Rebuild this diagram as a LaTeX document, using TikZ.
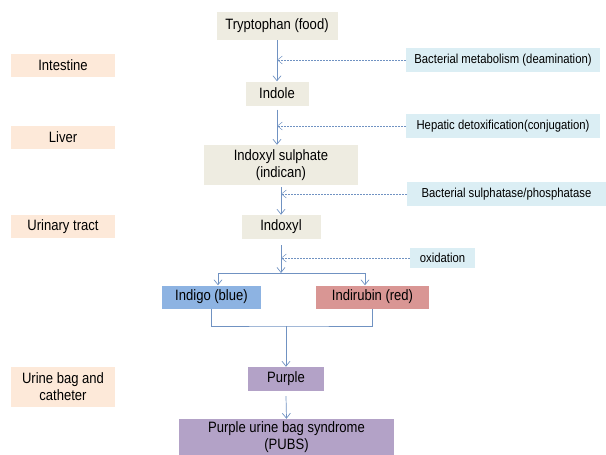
\documentclass[tikz,border=0pt]{standalone}
\usepackage{fontspec}
\setmainfont{Liberation Sans}[FakeStretch=0.87]
\usepackage{tikz}
\usetikzlibrary{positioning, arrows.meta, shapes}
\definecolor{arena}{RGB}{238, 236, 225}
\definecolor{durazno}{RGB}{253, 233, 217}
\definecolor{cielo}{RGB}{219, 238, 244}
\definecolor{azul}{RGB}{141, 179, 226}
\definecolor{rojo}{RGB}{217, 150, 148}
\definecolor{lila}{RGB}{179, 162, 199}
\definecolor{acero}{RGB}{112, 146, 194}
\tikzset{
    paso/.style={rectangle, fill=arena, inner sep=1pt, minimum height=24pt, align=center, font=\fontsize{15}{17}\selectfont},
    organo/.style={rectangle, fill=durazno, inner sep=1pt, minimum width=104pt, minimum height=23pt, align=center, font=\fontsize{15}{17}\selectfont},
    proc/.style={rectangle, fill=cielo, inner sep=1pt, minimum height=24pt, font=\fontsize{13}{15}\selectfont},
    conn/.style={-{Straight Barb[length=5pt, width=8pt]}, acero, line width=0.7pt},
    dconn/.style={conn, dash pattern=on 2pt off 1pt, line width=0.5pt},
    linea/.style={-, acero, line width=0.7pt},
}

\begin{document}
\begin{tikzpicture}[x=1pt, y=-1pt]
    \useasboundingbox (0,0) rectangle (606,455);

    % pasos
    \node [paso, minimum width=121pt, minimum height=28pt] (tryp) at (277,26) {Tryptophan (food)};
    \node [paso, minimum width=63pt] (indol) at (277,93.5) {Indole};
    \node [paso, minimum width=154pt, minimum height=40pt] (sulf) at (281,165) {Indoxyl sulphate\\(indican)};
    \node [paso, minimum width=79pt] (indox) at (281,227) {Indoxyl};
    \node [paso, fill=azul, minimum width=99pt, minimum height=23pt] (indigo) at (211.5,297) {Indigo (blue)};
    \node [paso, fill=rojo, minimum width=113pt, minimum height=23pt] (indir) at (372.5,297) {Indirubin (red)};
    \node [paso, fill=lila, minimum width=76pt] (purp) at (286,379) {Purple};
    \node [paso, fill=lila, minimum width=215pt, minimum height=36pt] (pubs) at (286.5,437) {Purple urine bag syndrome\\(PUBS)};

    % organos
    \node [organo] (intest) at (63,65.5) {Intestine};
    \node [organo] (higado) at (63,137.5) {Liver};
    \node [organo] (tracto) at (63,226.5) {Urinary tract};
    \node [organo, minimum height=40pt] (bolsa) at (63,387) {Urine bag and\\catheter};

    % procesos
    \node [proc, minimum width=194pt] (bact) at (503,60) {Bacterial metabolism (deamination)};
    \node [proc, minimum width=194pt] (hepat) at (503,126) {Hepatic detoxification(conjugation)};
    \node [proc, minimum width=199pt] (sulfat) at (506.5,194) {Bacterial sulphatase/phosphatase};
    \node [proc, minimum width=65pt, minimum height=20pt] (oxid) at (442.5,258) {oxidation};

    \coordinate (rama) at (281,273);
    \coordinate (ramaI) at (218,273);
    \coordinate (ramaD) at (365,273);
    \coordinate (union) at (286,326);

    \draw [conn] (tryp.south) -- (indol.north);
    \draw [conn] ([yshift=-4pt]indol.south) -- (indol.south |- sulf.north);
    \draw [conn] ([yshift=-2pt]sulf.south) -- (indox.north);
    \draw [conn] ([yshift=-6pt]indox.south) -- (rama);

    \draw [linea] (ramaI) -- (ramaD);
    \draw [conn] (ramaI) -- (ramaI |- indigo.north);
    \draw [conn] (ramaD) -- (ramaD |- indir.north);

    \draw [linea] (indigo.south) |- (union) -| (indir.south);
    \draw [conn] (union) -- (purp.north);
    \draw [conn] ([yshift=-5pt]purp.south) -- (pubs.north);

    \draw [dconn] (bact.west) -- (bact.west -| tryp.south);
    \draw [dconn] (hepat.west) -- (hepat.west -| indol.south);
    \draw [dconn] (sulfat.west) -- (sulfat.west -| sulf.south);
    \draw [dconn] (oxid.west) -- (oxid.west -| rama);
\end{tikzpicture}
\end{document}
